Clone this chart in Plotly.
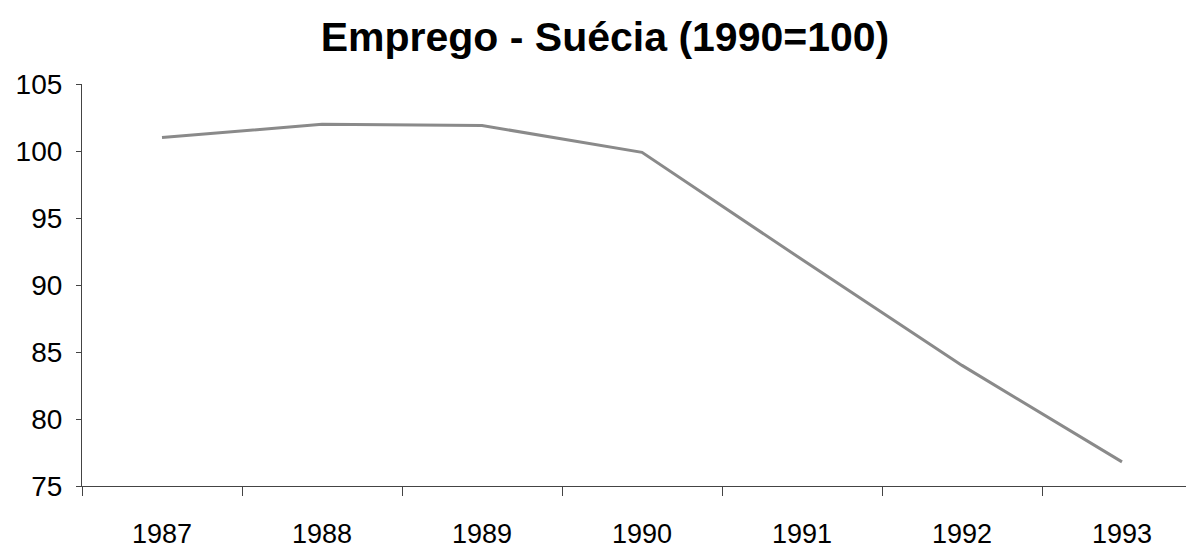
import plotly.graph_objects as go

years = ["1987", "1988", "1989", "1990", "1991", "1992", "1993"]
emprego = [101.0, 102.0, 101.9, 99.9, 91.9, 84.0, 76.8]
y_ticks = [75, 80, 85, 90, 95, 100, 105]

fig = go.Figure()
fig.add_trace(go.Scatter(
    x=years, y=emprego, mode="lines",
    line=dict(color="#8a8a8a", width=3),
    showlegend=False,
))

font_family = "Liberation Sans, Arial, sans-serif"

fig.update_layout(
    width=1194, height=551,
    paper_bgcolor="white", plot_bgcolor="white",
    margin=dict(l=74, r=0, t=76, b=73),
    title=dict(
        text="<b>Emprego - Suécia (1990=100)</b>",
        font=dict(family=font_family, size=41, color="black"),
        x=(605 - 8) / 1194, xanchor="center", xref="container",
        y=1 - 29 / 551, yanchor="middle", yref="container",
    ),
    xaxis=dict(
        type="category", range=[-0.5, 6.5],
        showline=True, linecolor="#444", linewidth=1.2,
        ticks="outside", tickson="boundaries", ticklen=9, tickcolor="#444",
        tickfont=dict(family=font_family, size=27, color="black"),
        ticklabelstandoff=23,
        showgrid=False, zeroline=False,
    ),
    yaxis=dict(
        range=[75, 105], tickvals=y_ticks,
        showline=True, linecolor="#444", linewidth=1.2,
        ticks="outside", ticklen=5, tickcolor="#444",
        tickfont=dict(family=font_family, size=28, color="black"),
        ticklabelstandoff=8,
        showgrid=False, zeroline=False,
    ),
)

fig.write_html("out.html")
